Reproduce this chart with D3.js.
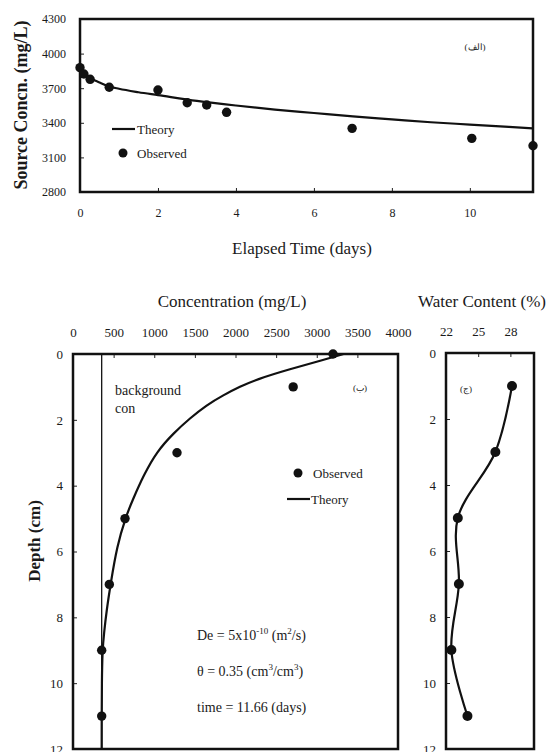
<!DOCTYPE html>
<html><head><meta charset="utf-8">
<script src="https://cdn.jsdelivr.net/npm/d3@7"></script>
<style>
body{margin:0;background:#fff;}
text{font-family:"Liberation Serif","DejaVu Serif",serif;fill:#1a1a1a;}
</style></head>
<body><svg id="c" width="550" height="752"></svg>
<script>
// ---- Data ----
const obsDays = [0, 0.1, 0.26, 0.75, 2.0, 2.75, 3.25, 3.76, 6.98, 10.05, 11.62];
const obsConc = [3878, 3823, 3777, 3708, 3684, 3574, 3554, 3491, 3352, 3265, 3201];
const theoryDays = [0, 0.1, 0.25, 0.5, 0.75, 1, 1.5, 2, 3, 4, 5, 6, 7, 8, 9, 10, 11, 11.62];
const theoryConc = [3880, 3830, 3790, 3750, 3715, 3695, 3665, 3640, 3590, 3550, 3515, 3485, 3455, 3430, 3405, 3385, 3365, 3352];
const timeTicks = [0, 2, 4, 6, 8, 10];
const srcTicks = [2800, 3100, 3400, 3700, 4000, 4300];

const profDepth = [0, 1, 3, 5, 7, 9, 11];
const profConc = [3200, 2710, 1280, 640, 447, 353, 353];
const thDepth = [0, 0.18, 0.46, 0.77, 0.99, 1.25, 1.55, 1.95, 2.41, 2.97, 3.68, 4.43, 4.94, 5.85, 6.97, 7.78, 8.48, 9, 10, 11, 12];
const thConc = [3330, 3080, 2670, 2260, 2055, 1850, 1645, 1440, 1235, 1030, 870, 735, 650, 540, 464, 414, 382, 362, 355, 353, 353];
const backgroundConc = 353;
const concTicks = [0, 500, 1000, 1500, 2000, 2500, 3000, 3500, 4000];
const depthTicks = [0, 2, 4, 6, 8, 10, 12];

const wcDepth = [1, 3, 5, 7, 9, 11];
const wcValue = [28.15, 26.6, 23.1, 23.2, 22.5, 24.0];
const wcTicks = [22, 25, 28];

const svg = d3.select("#c");
svg.append("rect").attr("width",550).attr("height",752).attr("fill","#fff");

function styleAxis(fs){
  return g => {
    g.select(".domain").remove();
    g.selectAll(".tick line").attr("stroke","#222").attr("stroke-width",1);
    g.selectAll(".tick text").attr("font-family","Liberation Serif, DejaVu Serif, serif").attr("font-size",fs).attr("fill","#222");
  };
}
function frame(x0,y0,x1,y1){
  svg.append("rect").attr("x",x0).attr("y",y0).attr("width",x1-x0).attr("height",y1-y0)
    .attr("fill","none").attr("stroke","#111").attr("stroke-width",2.5);
}

// ---- Top chart ----
const xT = d3.scaleLinear().domain([0, 11.62]).range([80, 533]);
const yT = d3.scaleLinear().domain([2800, 4300]).range([192, 19]);
svg.append("g").attr("transform","translate(0,192)")
  .call(d3.axisBottom(xT).tickValues(timeTicks).tickSize(-4).tickPadding(16).tickFormat(d3.format("d"))).call(styleAxis(12));
svg.append("g").attr("transform","translate(80,0)")
  .call(d3.axisLeft(yT).tickValues(srcTicks).tickSize(-4).tickPadding(14).tickFormat(d3.format("d"))).call(styleAxis(12));
frame(80,19,533,192);
svg.append("path").datum(theoryDays.map((d,i)=>[d,theoryConc[i]]))
  .attr("fill","none").attr("stroke","#111").attr("stroke-width",2.2)
  .attr("d", d3.line().x(d=>xT(d[0])).y(d=>yT(d[1])).curve(d3.curveMonotoneX));
svg.append("g").selectAll("circle").data(obsDays.map((d,i)=>[d,obsConc[i]])).join("circle")
  .attr("cx",d=>xT(d[0])).attr("cy",d=>yT(d[1])).attr("r",4.7).attr("fill","#111");
// legend
svg.append("line").attr("x1",112).attr("x2",135).attr("y1",129).attr("y2",129).attr("stroke","#111").attr("stroke-width",2.2);
svg.append("text").attr("x",137).attr("y",133.5).attr("font-size",13).text("Theory");
svg.append("circle").attr("cx",123).attr("cy",153).attr("r",4.5).attr("fill","#111");
svg.append("text").attr("x",137).attr("y",157.5).attr("font-size",13).text("Observed");
svg.append("text").attr("x",475).attr("y",50).attr("font-size",9).attr("text-anchor","middle")
  .attr("font-family","DejaVu Sans").text("(الف)");
svg.append("text").attr("transform","translate(27,105) rotate(-90)").attr("text-anchor","middle")
  .attr("font-size",18).attr("font-weight","bold").text("Source Concn.  (mg/L)");
svg.append("text").attr("x",302).attr("y",254).attr("text-anchor","middle").attr("font-size",17).text("Elapsed Time (days)");

// ---- Bottom-left chart ----
const xC = d3.scaleLinear().domain([0, 4000]).range([73, 398]);
const yD = d3.scaleLinear().domain([0, 12]).range([354, 749]);
svg.append("g").attr("transform","translate(0,354)")
  .call(d3.axisTop(xC).tickValues(concTicks).tickSize(-4).tickPadding(17).tickFormat(d3.format("d"))).call(styleAxis(13));
svg.append("g").attr("transform","translate(73,0)")
  .call(d3.axisLeft(yD).tickValues(depthTicks).tickSize(-4).tickPadding(10).tickFormat(d3.format("d"))).call(styleAxis(13));
frame(73,354,398,749);
svg.append("line").attr("x1",xC(backgroundConc)).attr("x2",xC(backgroundConc)).attr("y1",yD(0)).attr("y2",yD(12))
  .attr("stroke","#111").attr("stroke-width",1.3);
svg.append("path").datum(thDepth.map((d,i)=>[thConc[i],d]))
  .attr("fill","none").attr("stroke","#111").attr("stroke-width",2.2)
  .attr("d", d3.line().x(d=>xC(d[0])).y(d=>yD(d[1])).curve(d3.curveBasis));
svg.append("g").selectAll("circle").data(profDepth.map((d,i)=>[profConc[i],d])).join("circle")
  .attr("cx",d=>xC(d[0])).attr("cy",d=>yD(d[1])).attr("r",4.7).attr("fill","#111");
svg.append("text").attr("x",115).attr("y",395).attr("font-size",14).text("background");
svg.append("text").attr("x",115).attr("y",413).attr("font-size",14).text("con");
svg.append("text").attr("x",360).attr("y",391).attr("font-size",9).attr("text-anchor","middle")
  .attr("font-family","DejaVu Sans").text("(ب)");
svg.append("circle").attr("cx",298).attr("cy",473).attr("r",4.5).attr("fill","#111");
svg.append("text").attr("x",313).attr("y",477.5).attr("font-size",13).text("Observed");
svg.append("line").attr("x1",287).attr("x2",310).attr("y1",499).attr("y2",499).attr("stroke","#111").attr("stroke-width",2.2);
svg.append("text").attr("x",311).attr("y",503.5).attr("font-size",13).text("Theory");
// annotations
const a1 = svg.append("text").attr("x",197).attr("y",640).attr("font-size",14);
a1.append("tspan").text("De = 5x10");
a1.append("tspan").attr("dy",-6).attr("font-size",9).text("-10");
a1.append("tspan").attr("dy",6).text(" (m");
a1.append("tspan").attr("dy",-6).attr("font-size",9).text("2");
a1.append("tspan").attr("dy",6).text("/s)");
const a2 = svg.append("text").attr("x",197).attr("y",676).attr("font-size",14);
a2.append("tspan").text("θ = 0.35 (cm");
a2.append("tspan").attr("dy",-6).attr("font-size",9).text("3");
a2.append("tspan").attr("dy",6).text("/cm");
a2.append("tspan").attr("dy",-6).attr("font-size",9).text("3");
a2.append("tspan").attr("dy",6).text(")");
svg.append("text").attr("x",197).attr("y",712).attr("font-size",14).text("time = 11.66 (days)");
svg.append("text").attr("x",232).attr("y",307).attr("text-anchor","middle").attr("font-size",17).text("Concentration (mg/L)");
svg.append("text").attr("transform","translate(40,541) rotate(-90)").attr("text-anchor","middle")
  .attr("font-size",17).attr("font-weight","bold").text("Depth  (cm)");

// ---- Bottom-right chart ----
const xW = d3.scaleLinear().domain([22, 30.2]).range([446, 534]);
const yW = d3.scaleLinear().domain([0, 12]).range([353, 749]);
svg.append("g").attr("transform","translate(0,353)")
  .call(d3.axisTop(xW).tickValues(wcTicks).tickSize(-4).tickPadding(17).tickFormat(d3.format("d"))).call(styleAxis(13));
svg.append("g").attr("transform","translate(446,0)")
  .call(d3.axisLeft(yW).tickValues(depthTicks).tickSize(-4).tickPadding(10).tickFormat(d3.format("d"))).call(styleAxis(13));
frame(446,353,534,749);
svg.append("path").datum(wcDepth.map((d,i)=>[wcValue[i],d]))
  .attr("fill","none").attr("stroke","#111").attr("stroke-width",2.2)
  .attr("d", d3.line().x(d=>xW(d[0])).y(d=>yW(d[1])).curve(d3.curveCatmullRom.alpha(0.5)));
svg.append("g").selectAll("circle").data(wcDepth.map((d,i)=>[wcValue[i],d])).join("circle")
  .attr("cx",d=>xW(d[0])).attr("cy",d=>yW(d[1])).attr("r",5).attr("fill","#111");
svg.append("text").attr("x",466).attr("y",392).attr("font-size",9).attr("text-anchor","middle")
  .attr("font-family","DejaVu Sans").text("(ج)");
svg.append("text").attr("x",482).attr("y",307).attr("text-anchor","middle").attr("font-size",17).text("Water Content (%)");
</script></body></html>
